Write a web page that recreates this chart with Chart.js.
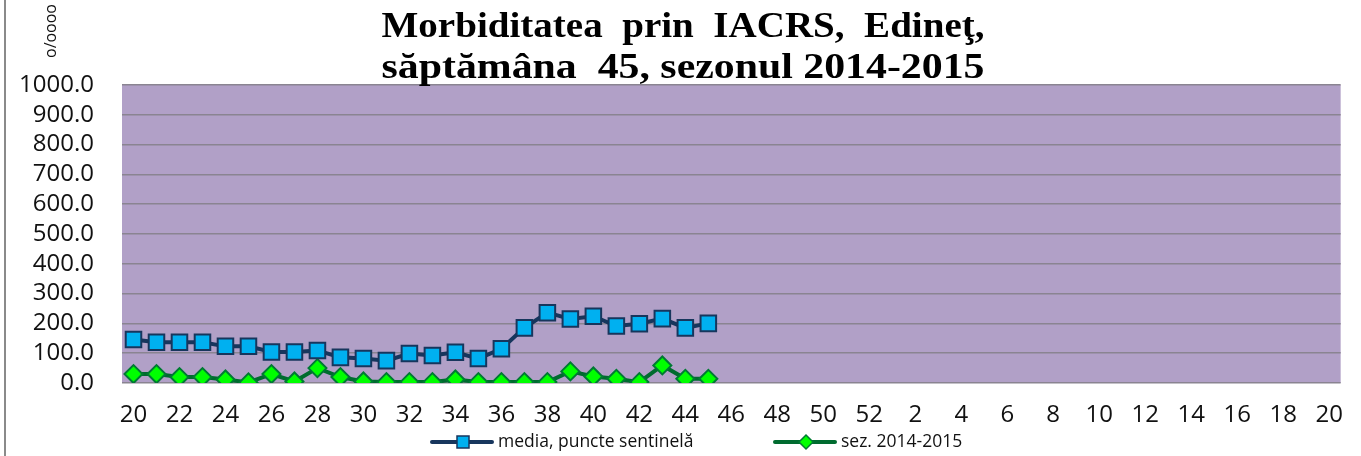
<!DOCTYPE html>
<html>
<head>
<meta charset="utf-8">
<script src="https://cdn.jsdelivr.net/npm/chart.js@4/dist/chart.umd.min.js"></script>
<style>
    html, body { margin: 0; padding: 0; background: #fff; }
    #cadru { position: relative; width: 1361px; height: 456px; }
    #cadru::before { content: ""; position: absolute; left: 4px; top: 0; width: 2px; height: 456px; background: #8a8a8a; }
</style>
</head>
<body>
<div id="cadru"><canvas id="grafic" width="1361" height="456"></canvas></div>
<script>
// saptamanile sezonului (20 - 52, apoi 1 - 20)
const saptamani = [20, 21, 22, 23, 24, 25, 26, 27, 28, 29, 30, 31, 32, 33, 34, 35, 36, 37, 38, 39, 40,
    41, 42, 43, 44, 45, 46, 47, 48, 49, 50, 51, 52, 1, 2, 3, 4, 5, 6, 7, 8, 9, 10, 11, 12, 13, 14, 15,
    16, 17, 18, 19, 20];

// media, puncte sentinela (sapt. 20 - 45)
const media = [146, 137, 137, 137, 123, 123, 104, 104, 109, 86, 82, 75, 99, 92, 103, 82, 115,
    185, 236, 215, 224, 191, 199, 216, 185, 200];

// sezonul 2014-2015 (sapt. 20 - 45)
const sezon = [30, 30, 20, 20, 12, 2, 30, 5, 50, 20, 5, 3, 3, 3, 12, 3, 3,
    3, 3, 39, 22, 14, 3, 59, 14, 14];

const titlu = ["Morbiditatea  prin  IACRS,  Edineţ,", "săptămâna  45, sezonul 2014-2015"];
const eticheteLegenda = ["media, puncte sentinelă", "sez. 2014-2015"];
const unitate = "o/oooo";

const fontText = "'Open Sans', 'Liberation Sans', sans-serif";

// fundal mov pentru zona graficului
const fundal = {
    id: "fundal",
    beforeDraw(chart) {
        const { ctx, chartArea: a } = chart;
        ctx.save();
        ctx.fillStyle = "#b1a0c7";
        ctx.fillRect(a.left, a.top, a.right - a.left, a.bottom - a.top);
        ctx.restore();
    }
};

// titlu, unitate si legenda desenate manual
const texte = {
    id: "texte",
    afterDraw(chart) {
        const ctx = chart.ctx;
        ctx.save();

        // titlul
        ctx.fillStyle = "#000";
        ctx.font = "bold 36px 'Liberation Serif', 'Times New Roman', serif";
        ctx.textAlign = "center";
        ctx.textBaseline = "alphabetic";
        const baze = [37, 78];
        titlu.forEach((linie, i) => {
            const w = ctx.measureText(linie).width;
            ctx.save();
            ctx.translate(683, baze[i]);
            ctx.scale(603 / w, 1);
            ctx.fillText(linie, 0, 0);
            ctx.restore();
        });

        // unitatea de masura (rotita)
        ctx.save();
        ctx.translate(51, 31);
        ctx.rotate(-Math.PI / 2);
        ctx.font = "16px " + fontText;
        ctx.textAlign = "center";
        ctx.textBaseline = "middle";
        ctx.fillStyle = "#111";
        ctx.fillText(unitate, 0, 0);
        ctx.restore();

        // legenda
        const y = 442;
        const pozitii = [432, 775];
        ctx.font = "17.5px " + fontText;
        ctx.textAlign = "left";
        ctx.textBaseline = "middle";
        chart.data.datasets.forEach((ds, i) => {
            const x = pozitii[i];
            ctx.strokeStyle = ds.borderColor;
            ctx.lineWidth = 4;
            ctx.lineCap = "round";
            ctx.beginPath();
            ctx.moveTo(x, y);
            ctx.lineTo(x + 60, y);
            ctx.stroke();
            ctx.fillStyle = ds.pointBackgroundColor;
            ctx.strokeStyle = ds.pointBorderColor;
            ctx.lineWidth = 1.5;
            ctx.beginPath();
            if (ds.pointStyle === "rect") {
                ctx.rect(x + 25, y - 6, 12, 12);
            } else {
                ctx.moveTo(x + 31, y - 7);
                ctx.lineTo(x + 38, y);
                ctx.lineTo(x + 31, y + 7);
                ctx.lineTo(x + 24, y);
                ctx.closePath();
            }
            ctx.fill();
            ctx.stroke();
            ctx.fillStyle = "#111";
            ctx.fillText(eticheteLegenda[i], x + 66, y);
        });

        ctx.restore();
    }
};

new Chart(document.getElementById("grafic"), {
    type: "line",
    data: {
        labels: saptamani,
        datasets: [
            {
                label: eticheteLegenda[0],
                data: media,
                borderColor: "#17365d",
                borderWidth: 4,
                pointStyle: "rect",
                pointRadius: 11,
                pointBackgroundColor: "#00b0f0",
                pointBorderColor: "#17365d",
                pointBorderWidth: 2,
                tension: 0
            },
            {
                label: eticheteLegenda[1],
                data: sezon,
                borderColor: "#006b2f",
                borderWidth: 4,
                pointStyle: "rectRot",
                pointRadius: 9,
                pointBackgroundColor: "#00ff00",
                pointBorderColor: "#007a33",
                pointBorderWidth: 2,
                tension: 0
            }
        ]
    },
    options: {
        responsive: false,
        animation: false,
        layout: { padding: { left: 0, right: 8, top: 85, bottom: 0 } },
        plugins: {
            legend: { display: false },
            title: { display: false },
            tooltip: { enabled: false }
        },
        scales: {
            x: {
                offset: true,
                afterFit: (scale) => { scale.height = 73; },
                grid: { display: false, drawTicks: false },
                border: { display: false },
                ticks: {
                    autoSkip: false,
                    maxRotation: 0,
                    padding: 18,
                    color: "#111",
                    font: { family: fontText, size: 24 },
                    callback: function (val, idx) {
                        return idx % 2 === 0 ? this.getLabelForValue(val) : "";
                    }
                }
            },
            y: {
                min: 0,
                max: 1000,
                afterFit: (scale) => { scale.width = 122; },
                grid: { color: "#8a8491", lineWidth: 1.5, drawTicks: false },
                border: { display: false },
                ticks: {
                    stepSize: 100,
                    autoSkip: false,
                    padding: 28,
                    color: "#111",
                    font: { family: fontText, size: 24 },
                    callback: (v) => v.toFixed(1)
                }
            }
        }
    },
    plugins: [fundal, texte]
});
</script>
</body>
</html>
